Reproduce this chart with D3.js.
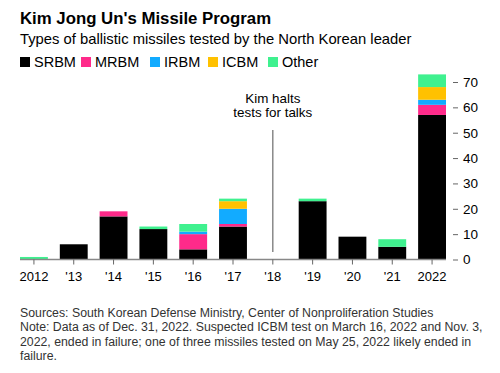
<!DOCTYPE html>
<html>
<head>
<meta charset="utf-8">
<script src="https://cdn.jsdelivr.net/npm/d3@7"></script>
<style>
  body { margin: 0; background: #fff; }
  svg { font-family: "Liberation Sans", Arial, sans-serif; }
</style>
</head>
<body>
<div id="chart"></div>
<script>
const years = ["2012", "'13", "'14", "'15", "'16", "'17", "'18", "'19", "'20", "'21", "2022"];
const srbm  = [0, 6, 17, 12, 4, 13, 0, 23, 9, 5, 57];
const mrbm  = [0, 0, 2, 0, 6, 1, 0, 0, 0, 0, 4];
const irbm  = [0, 0, 0, 0, 1, 6, 0, 0, 0, 0, 2];
const icbm  = [0, 0, 0, 0, 0, 3, 0, 0, 0, 0, 5];
const other = [1, 0, 0, 1, 3, 1, 0, 1, 0, 3, 5];
const seriesNames = ["SRBM", "MRBM", "IRBM", "ICBM", "Other"];
const seriesColors = ["#000000", "#ff2a8a", "#12abff", "#ffc100", "#3ff18f"];
const yTicks = [0, 10, 20, 30, 40, 50, 60, 70];

const W = 500, H = 373;
const svg = d3.select("#chart").append("svg")
  .attr("width", W)
  .attr("height", H);

// title block
svg.append("text")
  .attr("x", 20).attr("y", 23.5)
  .attr("font-size", 16.8).attr("font-weight", "bold")
  .attr("fill", "#000")
  .text("Kim Jong Un's Missile Program");

svg.append("text")
  .attr("x", 20).attr("y", 43.5)
  .attr("font-size", 14.8).attr("fill", "#000")
  .text("Types of ballistic missiles tested by the North Korean leader");

// legend
const legendX = [20, 81, 150, 208, 268];
const legend = svg.append("g").selectAll("g")
  .data(seriesNames)
  .join("g")
    .attr("transform", (d, i) => `translate(${legendX[i]},0)`);
legend.append("rect")
  .attr("y", 57).attr("width", 10).attr("height", 10)
  .attr("fill", (d, i) => seriesColors[i]);
legend.append("text")
  .attr("x", 14).attr("y", 66.5)
  .attr("font-size", 14.5).attr("fill", "#000")
  .text(d => d);

// scales
const x = d3.scaleBand()
  .domain(years)
  .range([20, 446])
  .paddingInner(0.3)
  .paddingOuter(0);

const y = d3.scaleLinear()
  .domain([0, 70])
  .range([259.5, 82]);

const rows = years.map((yr, i) => ({
  year: yr, SRBM: srbm[i], MRBM: mrbm[i], IRBM: irbm[i], ICBM: icbm[i], Other: other[i]
}));
const stacked = d3.stack().keys(seriesNames)(rows);

// bars
svg.append("g")
  .selectAll("g")
  .data(stacked)
  .join("g")
    .attr("fill", (d, i) => seriesColors[i])
  .selectAll("rect")
  .data(d => d)
  .join("rect")
    .attr("x", d => x(d.data.year))
    .attr("width", x.bandwidth())
    .attr("y", d => y(d[1]))
    .attr("height", d => y(d[0]) - y(d[1]));

// annotation
const ax = x("'18") + x.bandwidth() / 2;
svg.append("line")
  .attr("x1", ax).attr("x2", ax)
  .attr("y1", 130).attr("y2", 252)
  .attr("stroke", "#777").attr("stroke-width", 1.3);
svg.append("text")
  .attr("x", ax).attr("y", 102.5)
  .attr("text-anchor", "middle")
  .attr("font-size", 13.4).attr("fill", "#000")
  .text("Kim halts");
svg.append("text")
  .attr("x", ax).attr("y", 117)
  .attr("text-anchor", "middle")
  .attr("font-size", 13.4).attr("fill", "#000")
  .text("tests for talks");

// x axis
const xAxis = svg.append("g")
  .attr("transform", `translate(0,${y(0)})`)
  .call(d3.axisBottom(x).tickSize(5).tickPadding(7));
xAxis.select(".domain").attr("stroke", "#888").attr("stroke-width", 1.5)
  .attr("d", "M20,0H446");
xAxis.selectAll(".tick line").attr("stroke", "#666");
xAxis.selectAll(".tick text")
  .attr("font-size", 13).attr("fill", "#000")
  .attr("font-family", "Liberation Sans, Arial, sans-serif");

// y axis on right
const yAxis = svg.append("g")
  .attr("transform", "translate(452,0)")
  .call(d3.axisRight(y).tickValues(yTicks).tickSize(5).tickPadding(6));
yAxis.select(".domain").remove();
yAxis.selectAll(".tick line").attr("stroke", "#666").attr("x1", 1).attr("x2", 6);
yAxis.selectAll(".tick text")
  .attr("font-size", 13.5).attr("fill", "#000")
  .attr("font-family", "Liberation Sans, Arial, sans-serif");

// footer
const notes = [
  "Sources: South Korean Defense Ministry, Center of Nonproliferation Studies",
  "Note: Data as of Dec. 31, 2022. Suspected ICBM test on March 16, 2022 and Nov. 3,",
  "2022, ended in failure; one of three missiles tested on May 25, 2022 likely ended in",
  "failure."
];
svg.append("g").selectAll("text")
  .data(notes)
  .join("text")
    .attr("x", 20)
    .attr("y", (d, i) => 316.5 + i * 14.5)
    .attr("font-size", 12.3).attr("fill", "#333")
    .text(d => d);
</script>
</body>
</html>
